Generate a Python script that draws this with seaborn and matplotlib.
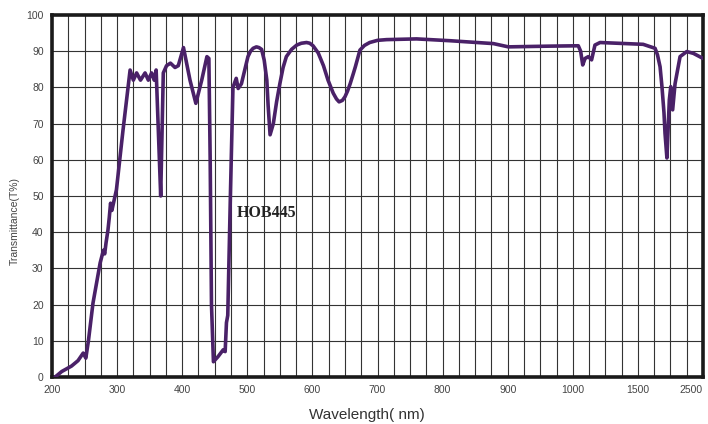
import numpy as np
import pandas as pd
import seaborn as sns
import matplotlib
matplotlib.use("Agg")
import matplotlib.pyplot as plt

# axis break points (nm) -> evenly spaced positions on the chart
axis_nm = [200, 300, 400, 500, 600, 700, 800, 900, 1000, 1500, 2500]
tick_labels = ["200", "300", "400", "500", "600", "700", "800", "900", "1000", "1500", "2500"]

# curve
wavelength = [205, 215, 230, 240, 248, 252, 256, 263, 274, 279, 281, 283, 286, 288,
              290, 292, 299, 309, 320, 325, 330, 336, 343, 348, 353, 357, 360, 364,
              367, 371, 376, 382, 389, 394, 402, 412, 421, 430, 438, 441, 443, 445,
              448, 455, 463, 466, 468, 470, 474, 478, 483, 486, 491, 501, 505, 509,
              514, 518, 522, 526, 530, 532, 535, 540, 545, 550, 555, 560, 568, 576,
              583, 591, 596, 601, 609, 617, 624, 632, 637, 641, 646, 650, 654, 658,
              663, 666, 673, 680, 688, 700, 714, 760, 811, 878, 901, 965, 1042, 1060,
              1076, 1094, 1119, 1144, 1170, 1209, 1580, 1763, 1800, 1840, 1870, 1900,
              1916, 1945, 1982, 2004, 2033, 2070, 2147, 2250, 2352, 2500]
transmittance = [0, 1.5, 3, 4.5, 6.6, 5.2, 10, 20.4, 31.5, 35, 34, 37, 40.6, 44,
                 48, 46, 51.7, 68, 84.8, 82, 84, 82, 84, 82, 84, 82, 84.8, 65,
                 50, 84, 86, 86.7, 85.5, 86, 91, 82, 75.6, 82, 88.5, 88, 60, 20,
                 4.2, 5.6, 7.5, 7, 15, 17, 49.8, 80, 82.5, 79.7, 81, 88.5, 90, 90.8,
                 91.2, 91, 90.5, 87.5, 82, 75, 66.9, 70, 76, 81, 85.5, 88.5, 90.5, 91.7,
                 92.2, 92.4, 92.2, 91.5, 89.5, 86, 82, 78.4, 76.8, 76, 76.4, 77.4, 79, 81,
                 83.9, 85.7, 90.3, 91.6, 92.4, 93, 93.2, 93.4, 92.9, 92.1, 91.2, 91.4, 91.5, 90,
                 86.2, 88, 88.5, 87.6, 91.7, 92.4, 91.9, 90.8, 89, 85.7, 80, 73,
                 67.3, 60.5, 76.5, 80.2, 73.8, 81, 88.5, 89.9, 89.4, 88]

label_text = "HOB445"

df = pd.DataFrame({"wl": wavelength, "T": transmittance})

axis_pos = np.arange(len(axis_nm), dtype=float)


def fwd(x):
    return np.interp(x, axis_nm, axis_pos)


def inv(u):
    return np.interp(u, axis_pos, axis_nm)


sns.set_style("white")
plt.rcParams["font.family"] = ["Liberation Sans", "DejaVu Sans"]

fig = plt.figure(figsize=(7.08, 4.24), dpi=100)
ax = fig.add_axes([0.0734, 0.111, 0.9196, 0.8536])
ax.set_xscale("function", functions=(fwd, inv))

sns.lineplot(data=df, x="wl", y="T", estimator=None, sort=False,
             color="#4a2168", linewidth=2.6, ax=ax, zorder=3)

ax.set_xlim(200, 2500)
ax.set_ylim(0, 100)
ax.set_xticks(axis_nm)
ax.set_xticklabels(tick_labels)
ax.set_yticks(np.arange(0, 101, 10))
ax.set_xticks(inv(np.arange(0, 10.01, 0.25)), minor=True)
ax.tick_params(axis="both", which="both", length=0, labelsize=7.5,
               labelcolor="#444444", pad=6)
ax.grid(True, which="both", axis="x", color="#333333", linewidth=0.8)
ax.grid(True, which="major", axis="y", color="#333333", linewidth=0.8)
# last label sits flush with the right edge, as in the original
ax.get_xticklabels()[-1].set_horizontalalignment("right")

for s in ax.spines.values():
    s.set_visible(True)
    s.set_color("#1a1a1a")
    s.set_linewidth(2.6)

ax.set_xlabel("Wavelength( nm)", fontsize=11, color="#333333")
ax.xaxis.set_label_coords(0.483, -0.085)
ax.set_ylabel("Transmittance(T%)", fontsize=7.5, color="#444444")
ax.yaxis.set_label_coords(-0.05, 0.43)

ax.text(484, 45.3, label_text, fontsize=11.5, fontweight="bold",
        family=["Liberation Serif", "DejaVu Serif"], color="#222222",
        va="center", ha="left", zorder=4)

fig.savefig("out.png", dpi=100)
